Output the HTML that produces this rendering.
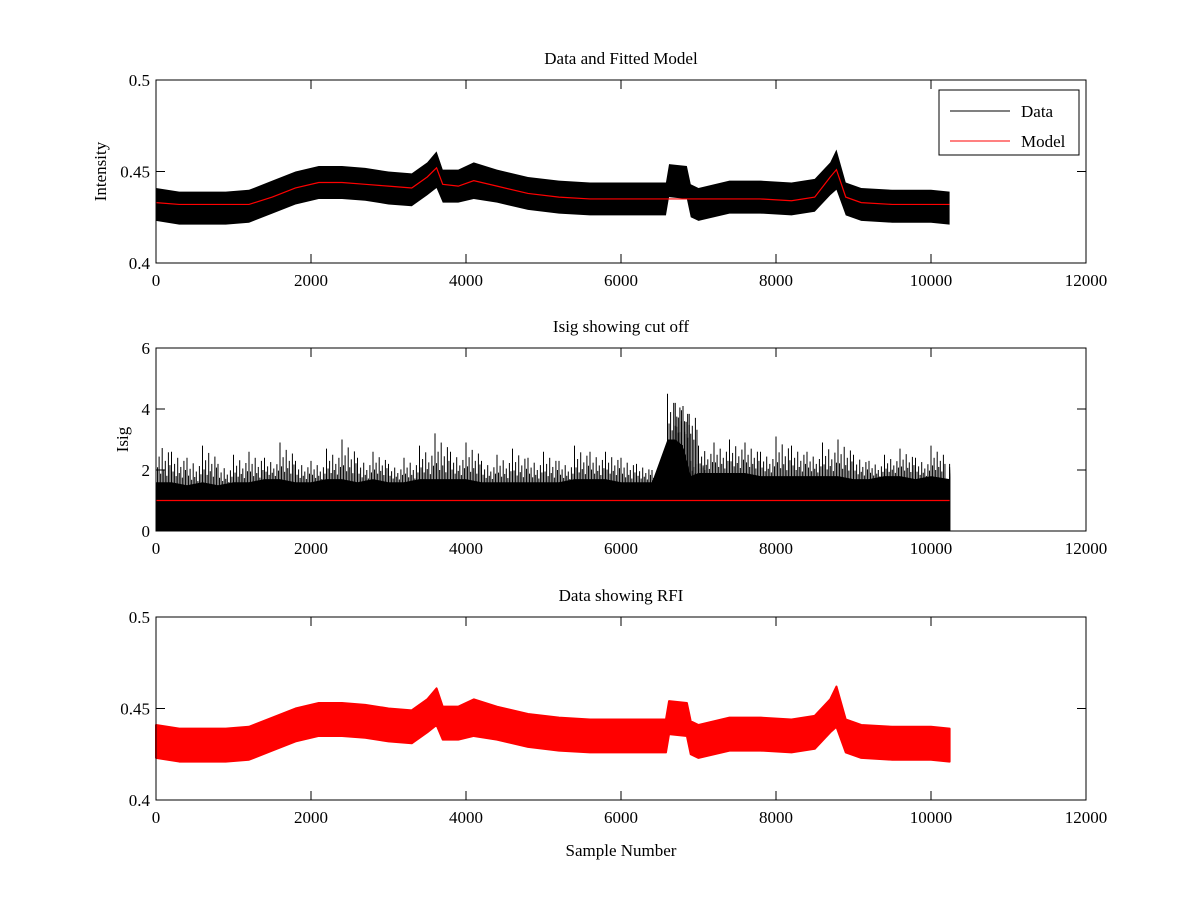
<!DOCTYPE html>
<html><head><meta charset="utf-8"><style>
body{margin:0;background:#fff}
svg{display:block;font-family:"Liberation Serif",serif}
</style></head><body>
<svg id="fig" width="1200" height="900" viewBox="0 0 1200 900"></svg>
<script>
// ---- data arrays ----
const sampleX = [0,300,600,900,1200,1500,1800,2100,2400,2700,3000,3300,3500,3620,3700,3900,4100,4400,4800,5200,5600,6000,6400,6580,6620,6850,6900,7000,7400,7800,8200,8500,8700,8780,8900,9100,9500,10000,10240];
const modelVals = [0.433,0.432,0.432,0.432,0.432,0.436,0.441,0.444,0.444,0.443,0.442,0.441,0.447,0.452,0.443,0.442,0.445,0.442,0.438,0.436,0.435,0.435,0.435,0.435,0.435,0.435,0.435,0.435,0.435,0.435,0.434,0.436,0.447,0.451,0.436,0.433,0.432,0.432,0.432];
const dataCenter = [0.432,0.430,0.430,0.430,0.431,0.436,0.441,0.444,0.444,0.443,0.441,0.440,0.446,0.451,0.442,0.442,0.445,0.442,0.438,0.436,0.435,0.435,0.435,0.435,0.445,0.444,0.434,0.432,0.436,0.436,0.435,0.437,0.446,0.451,0.435,0.432,0.431,0.431,0.430];
const dataSpread = [0.009,0.009,0.009,0.009,0.009,0.009,0.009,0.009,0.009,0.009,0.009,0.009,0.009,0.010,0.009,0.009,0.010,0.009,0.009,0.009,0.009,0.009,0.009,0.009,0.009,0.009,0.009,0.009,0.009,0.009,0.009,0.009,0.009,0.011,0.009,0.009,0.009,0.009,0.009];
const isigX = [0,200,400,600,800,1000,1200,1400,1600,1800,2000,2200,2400,2600,2800,3000,3200,3400,3600,3800,4000,4200,4400,4600,4800,5000,5200,5400,5600,5800,6000,6200,6400,6600,6700,6800,6900,7000,7200,7400,7600,7800,8000,8200,8400,8600,8800,9000,9200,9400,9600,9800,10000,10240];
const isigPeak = [3.0,2.6,2.4,2.8,2.2,2.5,2.6,2.4,2.9,2.3,2.3,2.7,3.0,2.4,2.6,2.2,2.4,2.8,3.2,2.6,2.9,2.3,2.5,2.7,2.4,2.6,2.3,2.8,2.6,2.6,2.4,2.2,2.0,4.5,4.2,4.1,2.3,2.8,2.9,3.0,2.9,2.6,3.1,2.8,2.6,2.9,3.0,2.5,2.3,2.5,2.7,2.4,2.8,2.2];
const isigBase = [1.6,1.6,1.5,1.6,1.5,1.6,1.6,1.7,1.7,1.6,1.6,1.7,1.7,1.6,1.7,1.6,1.6,1.7,1.7,1.7,1.7,1.6,1.6,1.6,1.6,1.6,1.6,1.7,1.7,1.7,1.6,1.6,1.6,3.0,3.0,2.8,1.8,1.9,1.9,1.9,1.9,1.8,1.8,1.8,1.8,1.8,1.8,1.7,1.7,1.8,1.8,1.7,1.8,1.7];
const cutoff = 1;
const xTicks = [0,2000,4000,6000,8000,10000,12000];
const yTicksI = [0.4,0.45,0.5];
const yTicksS = [0,2,4,6];

const NS='http://www.w3.org/2000/svg', svg=document.getElementById('fig');
function mk(t,a,p){const e=document.createElementNS(NS,t);for(const k in a)e.setAttribute(k,a[k]);(p||svg).appendChild(e);return e;}
const X0=156,X1=1086;
const sx=v=>X0+(v/12000)*(X1-X0);
function axes(top,bot,ymin,ymax,yt,name,title,ylab,ylx){
  const g=mk('g',{});
  
  
  const sy=v=>bot-(v-ymin)/(ymax-ymin)*(bot-top);
  return {g,sy,finish(){
    mk('rect',{x:X0,y:top,width:X1-X0,height:bot-top,fill:'none',stroke:'#000'},g);
    xTicks.forEach(t=>{const x=sx(t);mk('line',{x1:x,x2:x,y1:bot,y2:bot-9,stroke:'#000'},g);mk('line',{x1:x,x2:x,y1:top,y2:top+9,stroke:'#000'},g);
      const tx=mk('text',{x:x,y:bot+23,'text-anchor':'middle','font-size':17},g);tx.textContent=t;});
    yt.forEach(t=>{const y=sy(t);mk('line',{x1:X0,x2:X0+9,y1:y,y2:y,stroke:'#000'},g);mk('line',{x1:X1,x2:X1-9,y1:y,y2:y,stroke:'#000'},g);
      const tx=mk('text',{x:X0-6,y:y+6,'text-anchor':'end','font-size':17},g);tx.textContent=t;});
    const tt=mk('text',{x:621,y:top-16,'text-anchor':'middle','font-size':17},g);tt.textContent=title;
    const yl=mk('text',{x:ylx,y:(top+bot)/2,'text-anchor':'middle','font-size':17,transform:`rotate(-90 ${ylx} ${(top+bot)/2})`},g);yl.textContent=ylab;
  }};
}
function band(sy,c,s,color,g,extra){
  let up=sampleX.map((x,i)=>sx(x)+','+sy(c[i]+s[i]));
  let lo=sampleX.map((x,i)=>sx(x)+','+sy(c[i]-s[i])).reverse();
  return mk('polygon',Object.assign({points:up.concat(lo).join(' '),fill:color},extra||{}),g);
}
function line(sy,vals,color,g){
  return mk('polyline',{points:sampleX.map((x,i)=>sx(x)+','+sy(vals[i])).join(' '),fill:'none',stroke:color,'stroke-width':1.2},g);
}
// Panel 1
const a1=axes(80,263,0.4,0.5,yTicksI,'data-fitted-model-axes','Data and Fitted Model','Intensity',106);
const d1=band(a1.sy,dataCenter,dataSpread,'#000',a1.g);


const m1=line(a1.sy,modelVals,'#f00',a1.g);


a1.finish();
// legend
const lg=mk('g',{});


mk('rect',{x:939,y:90,width:140,height:65,fill:'#fff',stroke:'#000'},lg);
mk('line',{x1:950,x2:1010,y1:111,y2:111,stroke:'#000'},lg);
mk('line',{x1:950,x2:1010,y1:141,y2:141,stroke:'#f00'},lg);
let t=mk('text',{x:1021,y:117,'font-size':17},lg);t.textContent='Data';
t=mk('text',{x:1021,y:147,'font-size':17},lg);t.textContent='Model';
// Panel 2
const a2=axes(348,531,0,6,yTicksS,'isig-axes','Isig showing cut off','Isig',128);
const g2=a2.g;
const basePts=isigX.map((x,i)=>sx(x)+','+a2.sy(isigBase[i]));
const bp=mk('polygon',{points:[sx(0)+','+a2.sy(0)].concat(basePts,[sx(10240)+','+a2.sy(0)]).join(' '),fill:'#000'},g2);


const fr=[1,0.35,0.6,0.2,0.8,0.3,0.5,0.15,0.7,0.4];
isigX.forEach((x,i)=>{
  for(let k=0;k<10;k++){const xx=Math.min(sx(x)+k*1.55,sx(10240));
    const h=isigBase[i]+(isigPeak[i]-isigBase[i])*fr[k];
    const l=mk('line',{x1:xx,x2:xx,y1:a2.sy(0),y2:a2.sy(h),stroke:'#000','stroke-width':1},g2);
    
    }
});
const cl=mk('line',{x1:sx(0),x2:sx(10240),y1:a2.sy(cutoff),y2:a2.sy(cutoff),stroke:'#f00','stroke-width':1.2},g2);


a2.finish();
// Panel 3
const a3=axes(617,800,0.4,0.5,yTicksI,'rfi-axes','Data showing RFI','',100);
const d3=band(a3.sy,dataCenter,dataSpread,'#f00',a3.g,{stroke:'#f00','stroke-width':2,'stroke-linejoin':'round'});


a3.finish();
const xl=mk('text',{x:621,y:856,'text-anchor':'middle','font-size':17});


xl.textContent='Sample Number';
</script>
</body></html>
